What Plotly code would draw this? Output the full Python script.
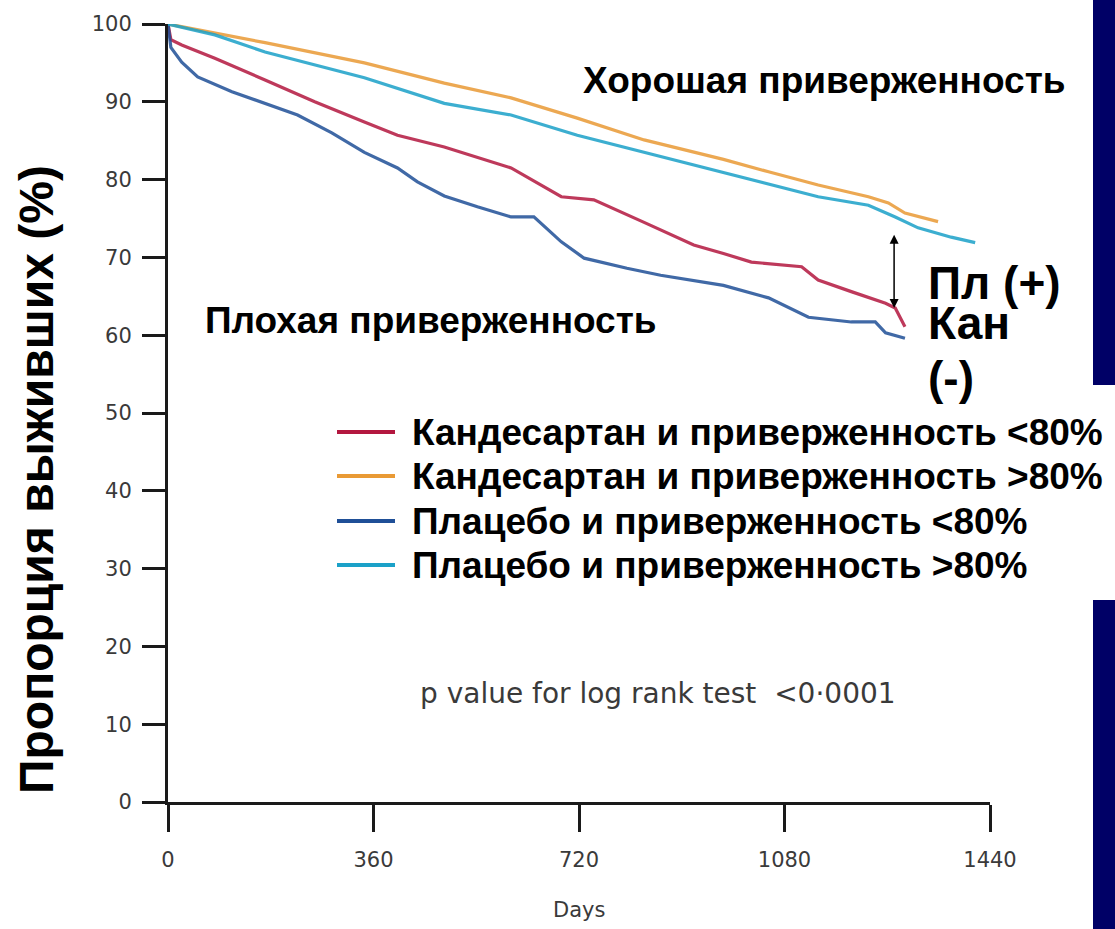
import plotly.graph_objects as go

# ---------------- data ----------------
orange_days = [0, 170, 344, 484, 601, 717, 834, 973, 1052, 1139, 1227, 1262, 1291, 1349]
orange_vals = [100, 97.6, 95.0, 92.4, 90.5, 87.9, 85.1, 82.6, 81.0, 79.3, 77.8, 77.0, 75.7, 74.6]

cyan_days = [0, 82, 170, 257, 344, 484, 601, 717, 834, 973, 1052, 1139, 1227, 1274, 1314, 1372, 1414]
cyan_vals = [100, 98.6, 96.4, 94.7, 93.1, 89.8, 88.3, 85.7, 83.5, 80.9, 79.5, 77.8, 76.7, 75.2, 73.8, 72.6, 71.9]

red_days = [0, 5, 24, 82, 170, 257, 344, 402, 484, 601, 689, 746, 834, 921, 973, 1022, 1110, 1139, 1197, 1257, 1274, 1291]
red_vals = [100, 98.0, 97.3, 95.6, 92.8, 90.0, 87.4, 85.7, 84.2, 81.5, 77.8, 77.4, 74.5, 71.6, 70.5, 69.4, 68.8, 67.1, 65.6, 64.1, 63.5, 61.1]

blue_days = [0, 5, 24, 52, 112, 170, 227, 287, 344, 402, 437, 484, 542, 601, 641, 689, 729, 804, 863, 973, 1052, 1122, 1197, 1239, 1257, 1291]
blue_vals = [100, 97.0, 95.1, 93.2, 91.3, 89.8, 88.3, 86.0, 83.5, 81.5, 79.7, 77.9, 76.5, 75.2, 75.2, 72.0, 69.9, 68.6, 67.7, 66.4, 64.8, 62.3, 61.7, 61.7, 60.3, 59.6]

legend_labels = [
    "Кандесартан и приверженность <80%",
    "Кандесартан и приверженность >80%",
    "Плацебо и приверженность <80%",
    "Плацебо и приверженность >80%",
]
x_ticks = [0, 360, 720, 1080, 1440]
y_ticks = [0, 10, 20, 30, 40, 50, 60, 70, 80, 90, 100]

arrow_day = 1272
arrow_top = 73.1
arrow_bottom = 63.5

# ---------------- layout geometry ----------------
W, H = 1115, 929
L, R, T, B = 168, 990, 24, 802


def px_x(p):
    return (p - L) / (R - L)


def px_y(p):
    return (B - p) / (B - T)


RED = "#B3173F"
ORANGE = "#E99A35"
BLUE = "#1F4F97"
CYAN = "#1BA1C8"
colors = [RED, ORANGE, BLUE, CYAN]

fig = go.Figure()
series = [(red_days, red_vals), (orange_days, orange_vals), (blue_days, blue_vals), (cyan_days, cyan_vals)]
for (d, v), c, name in zip(series, colors, legend_labels):
    fig.add_trace(go.Scatter(x=d, y=v, mode="lines", name=name,
                             line=dict(color=c, width=3.2), opacity=0.85,
                             showlegend=False))

tick_font = dict(family="DejaVu Sans", size=21, color="#3a3a3a")
fig.update_xaxes(range=[0, 1440], tickvals=x_ticks, ticktext=[str(t) for t in x_ticks],
                 showline=True, linecolor="#1a1a1a", linewidth=3,
                 ticks="outside", ticklen=27, tickwidth=3, tickcolor="#1a1a1a",
                 ticklabelstandoff=10,
                 showgrid=False, zeroline=False, tickfont=tick_font)
fig.update_yaxes(range=[0, 100], tickvals=y_ticks, ticktext=[str(t) for t in y_ticks],
                 showline=True, linecolor="#1a1a1a", linewidth=3,
                 ticks="outside", ticklen=23, tickwidth=3, tickcolor="#1a1a1a",
                 ticklabelstandoff=6,
                 showgrid=False, zeroline=False, tickfont=tick_font)

shapes = []
# navy side bars
shapes.append(dict(type="rect", xref="paper", yref="paper",
                   x0=px_x(1093), x1=px_x(1120), y0=px_y(0), y1=px_y(385),
                   fillcolor="#000066", line=dict(width=0), layer="below"))
shapes.append(dict(type="rect", xref="paper", yref="paper",
                   x0=px_x(1093), x1=px_x(1120), y0=px_y(600), y1=px_y(935),
                   fillcolor="#000066", line=dict(width=0), layer="below"))

annotations = []
legend_rows_px = [432, 476, 521, 565]
for lab, c, ry in zip(legend_labels, colors, legend_rows_px):
    shapes.append(dict(type="line", xref="paper", yref="paper",
                       x0=px_x(337), x1=px_x(395), y0=px_y(ry), y1=px_y(ry),
                       line=dict(color=c, width=4)))
    annotations.append(dict(xref="paper", yref="paper", x=px_x(410), y=px_y(ry),
                            text="<b>" + lab.replace("<", "&lt;").replace(">", "&gt;") + "</b>",
                            showarrow=False, xanchor="left", yanchor="middle",
                            font=dict(family="Liberation Sans", size=37, color="black")))

bold = dict(family="Liberation Sans", color="black")
annotations += [
    dict(xref="paper", yref="paper", x=px_x(581), y=px_y(80), text="<b>Хорошая приверженность</b>",
         showarrow=False, xanchor="left", yanchor="middle", font=dict(size=37, **bold)),
    dict(xref="paper", yref="paper", x=px_x(203), y=px_y(320), text="<b>Плохая приверженность</b>",
         showarrow=False, xanchor="left", yanchor="middle", font=dict(size=37, **bold)),
    dict(xref="paper", yref="paper", x=px_x(926), y=px_y(283), text="<b>Пл (+)</b>",
         showarrow=False, xanchor="left", yanchor="middle", font=dict(size=46, **bold)),
    dict(xref="paper", yref="paper", x=px_x(926), y=px_y(323), text="<b>Кан</b>",
         showarrow=False, xanchor="left", yanchor="middle", font=dict(size=46, **bold)),
    dict(xref="paper", yref="paper", x=px_x(926), y=px_y(378), text="<b>(-)</b>",
         showarrow=False, xanchor="left", yanchor="middle", font=dict(size=46, **bold)),
    dict(xref="paper", yref="paper", x=px_x(36), y=px_y(480), text="<b>Пропорция выживших (%)</b>",
         textangle=-90, showarrow=False, xanchor="center", yanchor="middle", font=dict(size=48, **bold)),
    dict(xref="paper", yref="paper", x=px_x(418), y=px_y(693), text="p value for log rank test  &lt;0·0001",
         showarrow=False, xanchor="left", yanchor="middle",
         font=dict(family="DejaVu Sans", size=28, color="#3a3a3a")),
    dict(xref="paper", yref="paper", x=0.5, y=px_y(910), text="Days",
         showarrow=False, xanchor="center", yanchor="middle",
         font=dict(family="DejaVu Sans", size=21, color="#3a3a3a")),
    dict(x=arrow_day, y=arrow_bottom, ax=arrow_day, ay=arrow_top, xref="x", yref="y",
         axref="x", ayref="y", text="", showarrow=True, arrowhead=2, arrowsize=1.2,
         arrowwidth=1.5, arrowcolor="black", arrowside="end+start", standoff=0, startstandoff=0),
]

fig.update_layout(width=W, height=H, margin=dict(l=L, r=W - R, t=T, b=H - B),
                  paper_bgcolor="white", plot_bgcolor="white",
                  shapes=shapes, annotations=annotations, showlegend=False)
fig.write_html("out.html")
